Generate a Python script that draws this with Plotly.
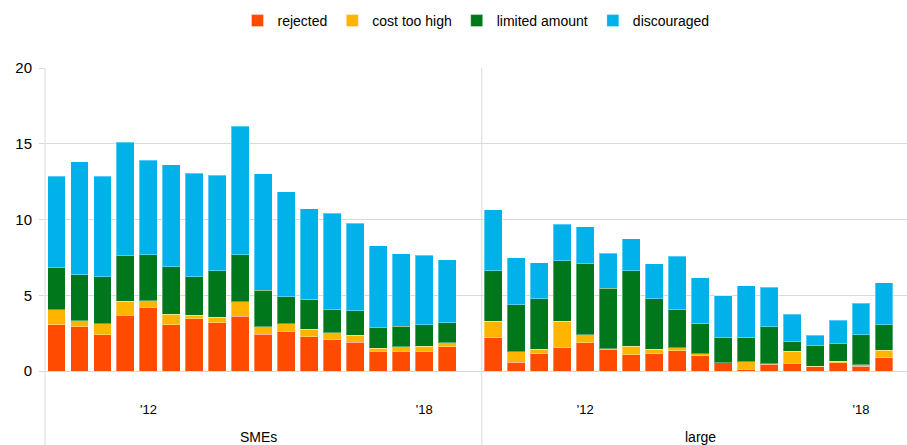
import plotly.graph_objects as go

# ---- data ----
series_names = ["rejected", "cost too high", "limited amount", "discouraged"]
series_colors = ["#FF4B00", "#FFB400", "#00771A", "#00B1EA"]

groups = ["SMEs", "large"]
n_periods = 18
tick_index = [4, 16]
tick_text = ["'12", "'18"]

sme_rejected = [3.06, 2.93, 2.40, 3.68, 4.21, 3.06, 3.46, 3.17, 3.63, 2.42, 2.64, 2.25, 2.07, 1.89, 1.30, 1.30, 1.30, 1.61]
sme_cost     = [0.97, 0.40, 0.73, 0.92, 0.42, 0.68, 0.22, 0.38, 0.93, 0.51, 0.47, 0.50, 0.44, 0.47, 0.20, 0.29, 0.33, 0.24]
sme_limited  = [2.78, 3.01, 3.08, 3.02, 3.06, 3.15, 2.53, 3.08, 3.13, 2.40, 1.78, 1.99, 1.52, 1.63, 1.36, 1.38, 1.43, 1.34]
sme_discour  = [6.05, 7.47, 6.63, 7.47, 6.21, 6.72, 6.85, 6.30, 8.46, 7.69, 6.94, 5.96, 6.39, 5.75, 5.42, 4.78, 4.58, 4.17]

lrg_rejected = [2.20, 0.57, 1.15, 1.54, 1.87, 1.43, 1.08, 1.15, 1.34, 1.01, 0.53, 0.13, 0.44, 0.51, 0.29, 0.53, 0.31, 0.88]
lrg_cost     = [1.08, 0.69, 0.28, 1.76, 0.51, 0.03, 0.55, 0.28, 0.18, 0.14, 0.02, 0.49, 0.04, 0.79, 0.04, 0.13, 0.09, 0.49]
lrg_limited  = [3.33, 3.12, 3.35, 3.99, 4.71, 4.01, 5.00, 3.35, 2.51, 2.00, 1.65, 1.60, 2.45, 0.62, 1.34, 1.15, 2.00, 1.67]
lrg_discour  = [4.03, 3.09, 2.36, 2.40, 2.43, 2.29, 2.11, 2.29, 3.55, 3.00, 2.78, 3.42, 2.60, 1.82, 0.69, 1.54, 2.07, 2.77]

sme_values = [sme_rejected, sme_cost, sme_limited, sme_discour]
lrg_values = [lrg_rejected, lrg_cost, lrg_limited, lrg_discour]

# ---- layout helpers ----
gap_slots = 1  # empty slot between panels
offset_large = n_periods + gap_slots
x_sme = list(range(n_periods))
x_lrg = [i + offset_large for i in range(n_periods)]
x_min = -0.5
x_max = offset_large + n_periods
divider = n_periods + 0.5  # boundary between panels

W, H = 907, 445
ml, mr, mt, mb = 45, 0, 68, 74
plot_h = H - mt - mb

def to_paper(xv):
    return (xv - x_min) / (x_max - x_min)

fig = go.Figure()
for k, name in enumerate(series_names):
    fig.add_trace(go.Bar(
        x=x_sme + x_lrg,
        y=sme_values[k] + lrg_values[k],
        name=name,
        marker=dict(color=series_colors[k], line=dict(color="rgba(255,255,255,0.35)", width=1)),
        width=0.78,
    ))

tickvals = [t for t in tick_index] + [t + offset_large for t in tick_index]
ticktext = tick_text + tick_text

fig.update_layout(
    barmode="stack",
    width=W, height=H,
    margin=dict(l=ml, r=mr, t=mt, b=mb),
    plot_bgcolor="white", paper_bgcolor="white",
    font=dict(family="Liberation Sans, Arial, sans-serif", size=14, color="#000000"),
    showlegend=True,
    legend=dict(
        orientation="h", x=0.5, xanchor="center", xref="paper",
        y=1 - 21 / H, yanchor="middle", yref="container",
        font=dict(size=14), itemwidth=30, traceorder="normal",
    ),
    xaxis=dict(
        range=[x_min, x_max], showgrid=False, zeroline=False, showline=False,
        tickmode="array", tickvals=tickvals, ticktext=ticktext,
        ticks="", tickfont=dict(size=13), ticklabelstandoff=29,
    ),
    yaxis=dict(
        range=[0, 20], tickvals=[0, 5, 10, 15, 20],
        showgrid=True, gridcolor="#D9D9D9", gridwidth=1,
        zeroline=True, zerolinecolor="#D9D9D9", zerolinewidth=1,
        showline=False, ticks="outside", ticklen=5, tickcolor="#D9D9D9",
        tickfont=dict(size=15), ticklabelstandoff=4,
    ),
)

y_bottom = -mb / plot_h
for xv in [x_min, divider]:
    fig.add_shape(type="line", xref="paper", yref="paper",
                  x0=to_paper(xv), x1=to_paper(xv), y0=y_bottom, y1=1,
                  line=dict(color="#D9D9D9", width=1), layer="above")

panel_centers = [(x_min + divider) / 2 - 0.2, (divider + x_max) / 2 + 0.25]
label_y_px = 437
for g, c in zip(groups, panel_centers):
    fig.add_annotation(text=g, xref="paper", yref="paper",
                       x=to_paper(c), y=-(label_y_px - (H - mb)) / plot_h,
                       xanchor="center", yanchor="middle", showarrow=False,
                       font=dict(size=14))

fig.write_html("out.html", config={"displayModeBar": False},
               post_script="document.body.style.margin='0';document.body.style.overflow='hidden';")
